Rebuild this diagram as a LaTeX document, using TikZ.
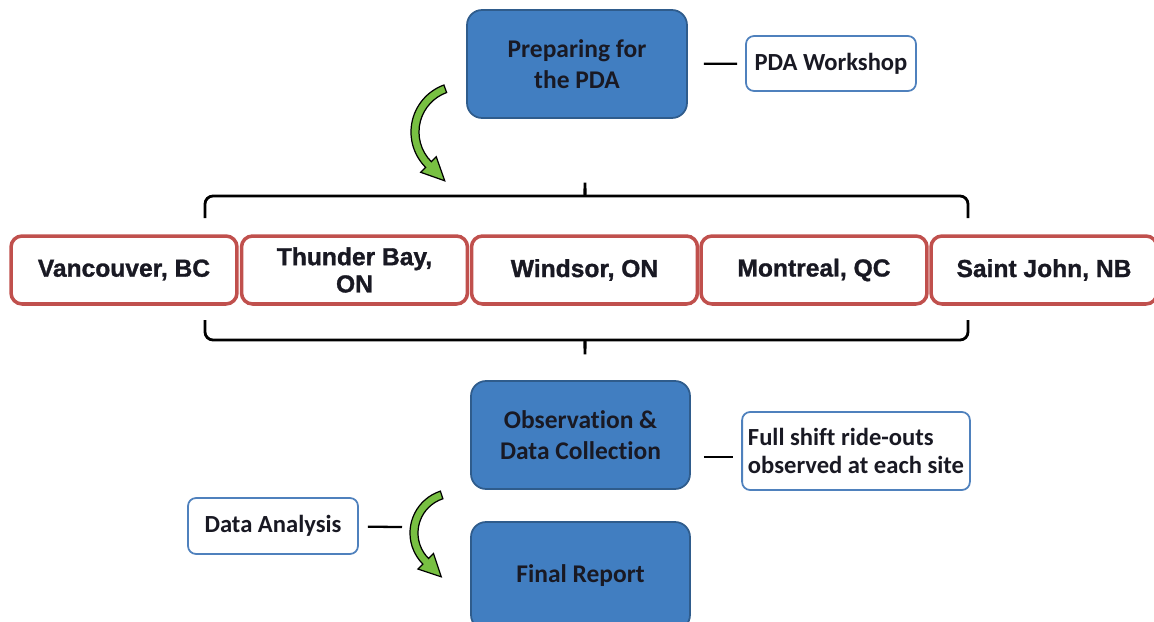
\documentclass[tikz,border=0pt]{standalone}
\usepackage{fontspec}
\setmainfont[Ligatures=NoCommon]{Carlito}
\newfontfamily\cityfont[BoldFeatures={FakeBold=1.2}]{Liberation Sans}
\usetikzlibrary{calc}

\definecolor{boxblue}{RGB}{65,126,193}
\definecolor{boxedge}{RGB}{47,92,140}
\definecolor{cityred}{RGB}{192,80,77}
\definecolor{thinblue}{RGB}{79,129,189}
\definecolor{arrowgreen}{RGB}{120,192,66}
\definecolor{textdark}{RGB}{25,25,35}

\tikzset{
  bluebox/.style={draw=boxedge, fill=boxblue, line width=1pt, rounded corners=0.3cm,
    minimum width=4.4cm, minimum height=2.16cm, align=center,
    font=\bfseries\fontsize{14.5}{18}\selectfont, text=textdark},
  notebox/.style={draw=thinblue, fill=white, line width=1pt, rounded corners=0.16cm,
    minimum height=1.1cm, align=center,
    font=\bfseries\fontsize{14}{16}\selectfont, text=textdark},
  citybox/.style={draw=cityred, line width=2pt, rounded corners=0.22cm,
    minimum width=4.52cm, minimum height=1.36cm, align=center,
    font=\cityfont\bfseries\fontsize{14}{15.5}\selectfont, text=textdark},
  link/.style={line width=1.3pt},
  bracket/.style={line width=1.6pt, rounded corners=0.16cm},
  turn/.style={draw=black, fill=arrowgreen, line width=0.7pt}
}

\begin{document}
\begin{tikzpicture}[x=0.02cm, y=-0.02cm]
\useasboundingbox (0,0) rectangle (1154,622);

% preparation
\node[bluebox] (prep) at (577,64) {Preparing for\\the PDA};
\node[notebox, minimum width=3.4cm] (workshop) at (831,63.5) {PDA Workshop};
\draw[link, shorten <=0.32cm, shorten >=0.16cm] (prep) -- (workshop);

% first turn arrow
\coordinate (c1) at (461,132);
\filldraw[turn] ($(c1)+(250:50)$) arc[start angle=250, end angle=135, radius=50]
  -- ($(c1)+(135:57)$) -- ($(c1)+(135:46)+(45:23)$) -- ($(c1)+(135:35)$)
  -- ($(c1)+(135:42)$) arc[start angle=135, end angle=250, radius=42] -- cycle;

% sites
\draw[bracket] (205,218) -- (205,196) -- (578,196)
  .. controls (584,196) and (585,190) .. (585,178)
  .. controls (585,190) and (586,196) .. (592,196) -- (968,196) -- (968,218);
\node[citybox] (van) at (124,270) {Vancouver, BC};
\node[citybox] (thu) at (354.5,270) {Thunder Bay,\\ON};
\node[citybox] (win) at (584.5,270) {Windsor, ON};
\node[citybox] (mon) at (814,270) {Montreal, QC};
\node[citybox] (sai) at (1044,270) {Saint John, NB};
\draw[bracket] (205,320) -- (205,340) -- (578,340)
  .. controls (584,340) and (585,347) .. (585,359)
  .. controls (585,347) and (586,340) .. (592,340) -- (968,340) -- (968,320);

% observation
\node[bluebox, minimum width=4.38cm] (obs) at (580.5,435) {Observation \&\\Data Collection};
\node[notebox, align=left, minimum width=4.52cm, minimum height=1.56cm] (full) at (856,451)
  {Full shift ride-outs\\observed at each site};
\draw[link, shorten <=0.26cm, shorten >=0.16cm] (obs.east |- 0,457) -- (full.west |- 0,457);

% report
\node[notebox, minimum width=3.4cm, minimum height=1.12cm] (analysis) at (273,526) {Data Analysis};
\coordinate (bend) at (402,527);
\draw[link, shorten <=0.18cm] (analysis) -- (bend);
\coordinate (c2) at (454,533);
\filldraw[turn] ($(c2)+(252:44)$) arc[start angle=252, end angle=135, radius=44]
  -- ($(c2)+(135:51)$) -- ($(c2)+(135:40)+(45:22)$) -- ($(c2)+(135:29)$)
  -- ($(c2)+(135:36)$) arc[start angle=135, end angle=252, radius=36] -- cycle;
\node[bluebox, minimum width=4.38cm] (final) at (580.5,576) {Final Report};
\end{tikzpicture}
\end{document}
